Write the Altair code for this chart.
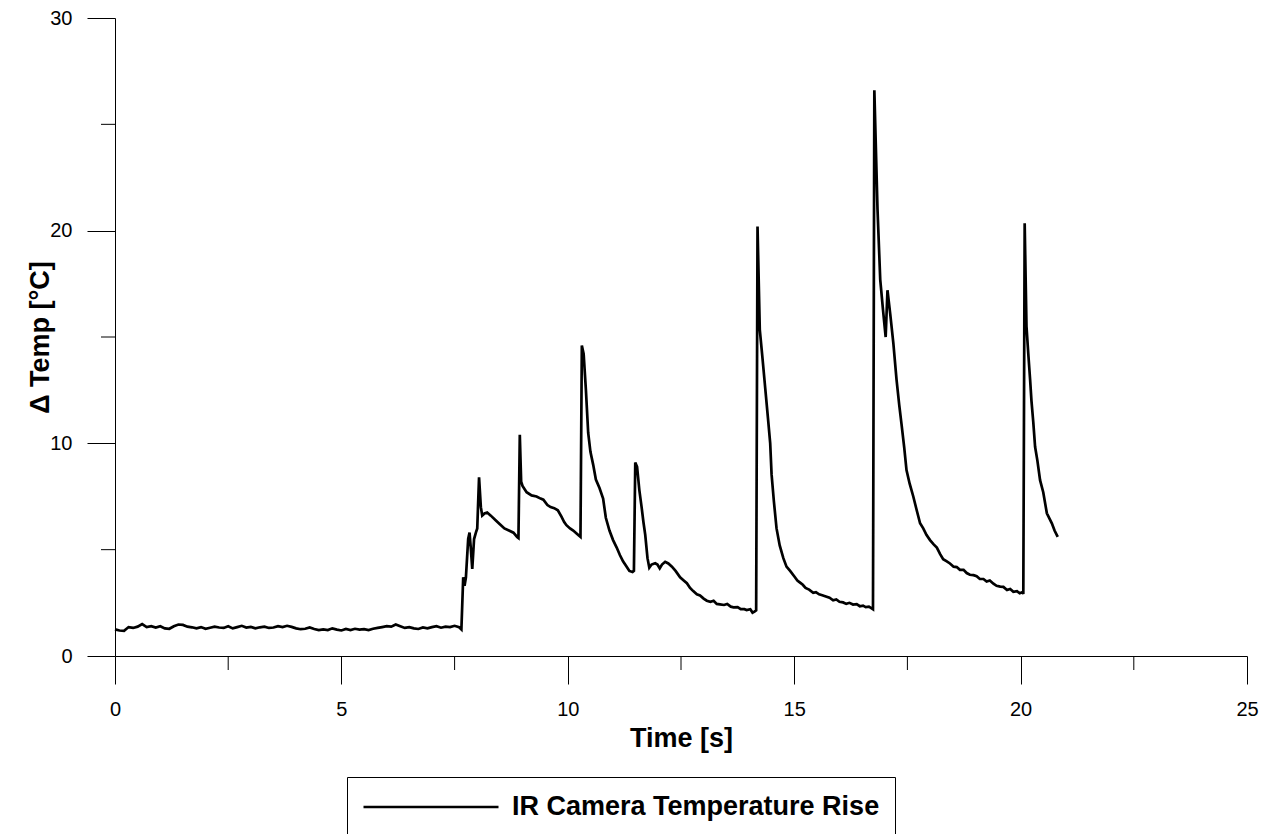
import altair as alt
import pandas as pd

# ---------------- data ----------------
time_s = [
    0.0, 0.1, 0.2, 0.3, 0.4, 0.5, 0.6, 0.7, 0.8, 0.9,
    1.0, 1.1, 1.2, 1.3, 1.4, 1.5, 1.6, 1.7, 1.8, 1.9,
    2.0, 2.1, 2.2, 2.3, 2.4, 2.5, 2.6, 2.7, 2.8, 2.9,
    3.0, 3.1, 3.2, 3.3, 3.4, 3.5, 3.6, 3.7, 3.8, 3.9,
    4.0, 4.1, 4.2, 4.3, 4.4, 4.5, 4.6, 4.7, 4.8, 4.9,
    5.0, 5.1, 5.2, 5.3, 5.4, 5.5, 5.6, 5.7, 5.8, 5.9,
    6.0, 6.1, 6.2, 6.3, 6.4, 6.5, 6.6, 6.7, 6.8, 6.9,
    7.0, 7.1, 7.2, 7.3, 7.4, 7.5, 7.6, 7.65,
    7.69, 7.72, 7.75, 7.80, 7.83, 7.86, 7.89, 7.93, 7.97, 8.00,
    8.04, 8.08, 8.11, 8.16, 8.22, 8.30, 8.40, 8.50, 8.60, 8.70,
    8.80, 8.88, 8.91, 8.94, 8.97, 9.00, 9.09, 9.20, 9.31, 9.40,
    9.46, 9.55, 9.62, 9.70, 9.78, 9.86, 9.92, 9.97, 10.05, 10.12,
    10.20, 10.25, 10.28, 10.31, 10.35, 10.40, 10.45, 10.50, 10.56, 10.62,
    10.70, 10.78, 10.84, 10.92, 11.00, 11.08, 11.15, 11.22, 11.30, 11.36,
    11.43, 11.46, 11.49, 11.53, 11.58, 11.63, 11.67, 11.71, 11.76, 11.80,
    11.85, 11.93, 11.98, 12.03, 12.08, 12.15, 12.22, 12.30, 12.38, 12.48,
    12.56, 12.63, 12.70, 12.77, 12.85, 12.92, 13.00, 13.07, 13.15, 13.22,
    13.29, 13.36, 13.45, 13.52, 13.60, 13.66, 13.75, 13.82, 13.90, 13.95,
    14.03, 14.08, 14.13, 14.16, 14.19, 14.24, 14.30, 14.36, 14.42, 14.47,
    14.50, 14.55, 14.61, 14.68, 14.76, 14.83, 14.91, 15.00, 15.07, 15.13,
    15.19, 15.25, 15.33, 15.42, 15.48, 15.55, 15.62, 15.70, 15.78, 15.86,
    15.93, 16.00, 16.08, 16.15, 16.22, 16.30, 16.38, 16.45, 16.52, 16.58,
    16.65, 16.71, 16.74, 16.77, 16.84, 16.90, 16.96, 17.02, 17.06, 17.12,
    17.19, 17.26, 17.32, 17.37, 17.43, 17.48, 17.55, 17.63, 17.70, 17.78,
    17.85, 17.92, 18.00, 18.08, 18.15, 18.22, 18.29, 18.37, 18.44, 18.52,
    18.59, 18.66, 18.74, 18.81, 18.88, 18.96, 19.03, 19.10, 19.18, 19.25,
    19.32, 19.40, 19.47, 19.55, 19.62, 19.70, 19.77, 19.84, 19.92, 19.98,
    20.04, 20.06, 20.09, 20.13, 20.17, 20.21, 20.24, 20.28, 20.32, 20.37,
    20.43, 20.50, 20.58, 20.63, 20.69, 20.75, 20.82,
]
delta_temp = [
    1.25, 1.20, 1.18, 1.36, 1.32, 1.38, 1.50, 1.36, 1.40, 1.34,
    1.40, 1.30, 1.28, 1.40, 1.48, 1.46, 1.38, 1.35, 1.30, 1.36,
    1.28, 1.33, 1.38, 1.34, 1.32, 1.40, 1.30, 1.36, 1.42, 1.34,
    1.37, 1.30, 1.35, 1.38, 1.32, 1.34, 1.40, 1.36, 1.42, 1.37,
    1.30, 1.26, 1.28, 1.34, 1.27, 1.22, 1.25, 1.22, 1.30, 1.24,
    1.20, 1.27, 1.22, 1.28, 1.24, 1.26, 1.22, 1.28, 1.32, 1.36,
    1.40, 1.38, 1.48, 1.40, 1.32, 1.36, 1.30, 1.27, 1.34, 1.30,
    1.36, 1.40, 1.33, 1.38, 1.36, 1.42, 1.35, 1.25,
    3.70, 3.30, 3.70, 5.50, 5.80, 5.00, 4.10, 5.50, 5.80, 6.00,
    8.40, 7.00, 6.60, 6.70, 6.75, 6.60, 6.40, 6.20, 6.00, 5.90,
    5.80, 5.60, 5.55, 10.40, 8.20, 8.00, 7.70, 7.55, 7.50, 7.40,
    7.35, 7.10, 7.00, 6.95, 6.85, 6.55, 6.30, 6.15, 6.00, 5.90,
    5.75, 5.65, 5.60, 14.60, 14.20, 12.50, 10.50, 9.60, 9.00, 8.30,
    7.90, 7.40, 6.50, 5.90, 5.45, 5.10, 4.75, 4.45, 4.20, 4.00,
    3.95, 4.00, 9.10, 8.90, 7.80, 7.00, 6.30, 5.70, 4.60, 4.15,
    4.30, 4.36, 4.30, 4.12, 4.30, 4.43, 4.35, 4.20, 4.00, 3.70,
    3.55, 3.42, 3.20, 3.05, 2.90, 2.85, 2.70, 2.60, 2.55, 2.60,
    2.45, 2.43, 2.40, 2.45, 2.32, 2.29, 2.30, 2.20, 2.20, 2.16,
    2.20, 2.04, 2.10, 2.15, 20.20, 15.35, 14.00, 12.60, 11.20, 10.00,
    8.55, 7.30, 6.00, 5.20, 4.60, 4.20, 4.00, 3.75, 3.55, 3.45,
    3.35, 3.20, 3.12, 2.97, 3.00, 2.90, 2.86, 2.80, 2.74, 2.62,
    2.66, 2.55, 2.52, 2.45, 2.50, 2.42, 2.44, 2.34, 2.37, 2.30,
    2.32, 2.24, 2.20, 26.60, 21.00, 17.70, 16.30, 15.00, 17.20, 16.10,
    14.70, 13.00, 11.80, 10.90, 9.80, 8.74, 8.10, 7.50, 6.90, 6.24,
    6.00, 5.70, 5.45, 5.25, 5.10, 4.80, 4.55, 4.45, 4.35, 4.20,
    4.18, 4.05, 4.05, 3.90, 3.82, 3.80, 3.75, 3.62, 3.62, 3.50,
    3.55, 3.40, 3.30, 3.26, 3.25, 3.10, 3.15, 3.02, 3.05, 2.95,
    3.00, 2.92, 20.35, 15.50, 14.20, 13.00, 12.00, 11.00, 9.84, 9.20,
    8.27, 7.70, 6.71, 6.50, 6.24, 5.90, 5.60,
]
series_name = "IR Camera Temperature Rise"
x_major = [0, 5, 10, 15, 20, 25]
x_minor = [2.5, 7.5, 12.5, 17.5, 22.5]
y_major = [0, 10, 20, 30]
y_minor = [5, 15, 25]
x_domain = [0, 25]
y_domain = [0, 30]

# ---------------- styling ----------------
W, H = 1132, 638
FONT = "Liberation Sans"
MAJOR_TICK = 28
MINOR_TICK = 14
TITLE_SIZE = 27
LABEL_SIZE = 20

df = pd.DataFrame({"t": time_s, "v": delta_temp, "series": [series_name] * len(time_s)})
xs = alt.Scale(domain=x_domain, nice=False, zero=False)
ys = alt.Scale(domain=y_domain, nice=False, zero=False)

x_axis = alt.Axis(
    values=x_major, title="Time [s]", grid=False,
    domainColor="black", domainWidth=1, tickColor="black", tickWidth=1,
    tickSize=MAJOR_TICK, labelFont=FONT, labelFontSize=LABEL_SIZE, labelColor="black",
    labelPadding=15, labelFlush=False, labelOverlap=False, format="d",
    titleFont=FONT, titleFontSize=TITLE_SIZE, titleFontWeight="bold", titleColor="black",
    titleBaseline="alphabetic", titleX=W / 2, titleY=90, titleAnchor="middle",
)
y_axis = alt.Axis(
    values=y_major, title="Δ Temp [°C]", grid=False,
    domainColor="black", domainWidth=1, tickColor="black", tickWidth=1,
    tickSize=MAJOR_TICK, labelFont=FONT, labelFontSize=LABEL_SIZE, labelColor="black",
    labelPadding=15, labelFlush=False, labelOverlap=False, format="d",
    titleFont=FONT, titleFontSize=TITLE_SIZE, titleFontWeight="bold", titleColor="black",
    titleBaseline="alphabetic", titleX=-67, titleY=H / 2, titleAngle=270,
    titleAnchor="middle",
)

line = alt.Chart(df).mark_line(strokeWidth=2.7, clip=False).encode(
    x=alt.X("t:Q", scale=xs, axis=x_axis),
    y=alt.Y("v:Q", scale=ys, axis=y_axis),
    color=alt.Color(
        "series:N",
        scale=alt.Scale(range=["black"]),
        legend=alt.Legend(
            title=None, orient="none", legendX=232, legendY=759,
            symbolType="M-5,0H5", symbolSize=729, symbolStrokeWidth=2.7,
            symbolOffset=54, labelOffset=66,
            labelFont=FONT, labelFontSize=TITLE_SIZE, labelFontWeight="bold",
            labelColor="black", labelLimit=0,
            strokeColor="black", fillColor="white", padding=15,
        ),
    ),
)

x_minor_ticks = alt.Chart(pd.DataFrame({"t": x_minor})).mark_rule(
    color="black", strokeWidth=1
).encode(
    x=alt.X("t:Q", scale=xs, axis=x_axis),
    y=alt.value(H),
    y2=alt.value(H + MINOR_TICK),
)
y_minor_ticks = alt.Chart(pd.DataFrame({"v": y_minor})).mark_rule(
    color="black", strokeWidth=1
).encode(
    y=alt.Y("v:Q", scale=ys, axis=y_axis),
    x=alt.value(0),
    x2=alt.value(-MINOR_TICK),
)

chart = alt.layer(line, x_minor_ticks, y_minor_ticks).properties(
    width=W, height=H,
    autosize=alt.AutoSizeParams(type="none"),
    padding={"left": 107, "top": 10, "right": 15, "bottom": 200},
    background="white",
).configure_view(stroke=None)

chart.save("out.html", embed_options={"renderer": "svg", "actions": False})
